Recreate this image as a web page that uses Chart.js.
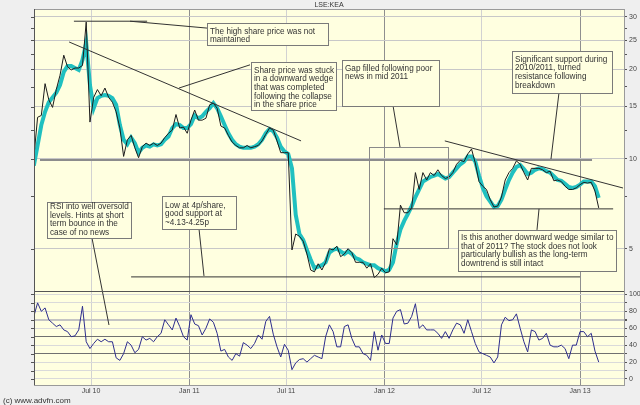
<!DOCTYPE html>
<html><head><meta charset="utf-8">
<script src="https://cdn.jsdelivr.net/npm/chart.js@4.4.1/dist/chart.umd.min.js"></script>
<style>html,body{margin:0;padding:0;background:#efefef;}canvas{display:block;}</style>
</head><body>
<canvas id="c" width="640" height="405" style="width:640px;height:405px"></canvas>
<script>
const chartTitle = 'LSE:KEA';
const credit = '(c) www.advfn.com';
const startDate = '2010-03-16';
const stepDays = 7;

const priceClose = [
10.1,13.8,14.0,17.9,15.8,14.9,17.1,19.1,22.3,20.4,
19.9,20.2,20.2,20.6,28.8,13.3,16.1,17.1,16.3,17.3,
16.1,15.5,14.4,12.7,10.2,11.6,12.0,10.9,10.1,11.0,
11.3,11.1,11.3,11.1,11.3,11.8,12.2,12.5,14.1,12.7,
12.8,12.2,13.5,14.6,13.5,13.5,13.7,15.2,15.4,14.8,
12.9,12.7,12.0,11.4,11.1,10.9,10.9,11.1,10.9,11.0,
11.1,11.5,12.1,12.7,12.5,11.5,10.5,10.5,10.5,4.95,
5.6,5.5,5.3,4.8,4.24,4.18,4.45,4.24,4.5,5.0,
4.95,5.1,4.7,4.8,5.0,4.85,4.5,4.5,4.5,4.3,
4.45,4.0,4.1,4.3,4.15,4.18,5.4,5.15,7.0,6.6,
6.6,6.85,9.0,7.9,9.0,8.5,9.0,8.8,9.2,8.8,
8.6,8.7,9.0,9.6,9.9,9.8,10.4,10.8,9.7,8.4,
8.1,7.9,7.3,6.9,6.95,7.45,8.5,9.0,9.3,9.85,
9.6,9.0,8.5,9.3,9.3,9.3,9.2,9.0,9.1,8.45,
8.5,8.4,8.1,7.9,7.9,8.0,8.2,8.35,8.3,8.35,
7.8,6.85];

const priceAverage = [
9.5,11.1,13.0,14.4,15.5,16.1,16.7,17.7,19.6,20.5,
20.5,20.2,19.9,21.5,24.5,17.7,14.8,16.0,16.3,16.4,
16.3,16.0,15.2,13.0,11.6,11.2,11.8,11.3,10.5,10.9,
11.1,11.0,11.2,11.1,11.2,11.6,11.9,12.7,13.1,13.0,
12.7,12.7,13.1,14.0,13.7,13.9,14.4,14.8,15.4,14.8,
13.9,13.0,12.2,11.6,11.2,11.0,10.9,10.9,10.9,11.0,
11.2,11.6,12.2,12.6,12.4,11.8,11.0,10.6,10.4,9.3,
6.5,5.6,5.35,4.95,4.6,4.3,4.35,4.4,4.5,4.85,
4.95,5.0,4.9,4.8,4.9,4.8,4.65,4.6,4.5,4.45,
4.4,4.4,4.3,4.25,4.2,4.25,4.5,5.2,5.8,6.2,
6.55,6.95,7.45,7.9,8.4,8.55,8.7,8.8,8.9,8.75,
8.6,8.7,9.0,9.3,9.6,9.8,10.2,10.2,9.8,8.8,
8.0,7.5,7.2,6.9,6.95,7.3,7.9,8.5,9.0,9.4,
9.55,9.25,8.9,9.0,9.2,9.3,9.25,9.1,9.0,8.75,
8.5,8.45,8.25,8.05,8.0,8.05,8.2,8.4,8.4,8.4,
8.1,7.4];

const rsiValues = [
74,90,80,84,70,66,62,64,58,56,
50,51,58,86,44,36,42,47,44,47,
44,44,25,22,30,44,40,31,35,50,
46,48,44,50,54,70,64,58,72,62,
50,46,76,65,63,52,60,71,67,54,
33,35,26,22,30,27,43,40,36,42,
52,47,68,74,53,38,26,41,34,11,
19,23,24,20,24,28,26,24,50,64,
56,38,38,62,64,48,38,38,30,28,
22,56,34,52,42,42,72,80,82,65,
66,74,89,60,64,58,58,58,54,48,
56,48,58,66,64,54,70,56,42,32,
30,28,26,19,26,64,73,69,70,77,
60,44,32,58,56,46,48,54,40,38,
38,40,36,24,40,40,56,56,50,54,
33,20];

const tickDates = ['2010-07-01','2011-01-01','2011-07-01','2012-01-01','2012-07-01','2013-01-01'];
const tickLabels = ['Jul 10','Jan 11','Jul 11','Jan 12','Jul 12','Jan 13'];
const priceTicks = [5,7.5,10,12.5,15,17.5,20,22.5,25,27.5,30];
const priceLabelTicks = [5,10,15,20,25,30];
const rsiTicks = [0,10,20,30,40,50,60,70,80,90,100];
const rsiLabelTicks = [0,20,40,60,80,100];

const dayRange = [74.3, 1178.3];
const priceRange = [3.605, 31.87];
const rsiRange = [-7.1, 104];

// drawn lines, [day, price]
const highLine = [[149,29.0],[286,29.0]];
const wedge2010 = [[140,24.7],[574,11.5]];
const support10 = [[85.5,9.92],[1118.5,9.92]];
const wedge2012 = [[843,11.5],[1176.5,7.99]];
const support2012 = [[729,6.8],[1158,6.8]];
const lowLine = [[256,4.02],[1096,4.02]];

// notes
const notes = [
 {x1:398, y1:28.6, x2:624.4, y2:24.1, first:8, lines:['The high share price was not','maintained']},
 {x1:480.4, y1:21.2, x2:639.4, y2:14.6, first:8, lines:['Share price was stuck','in a downward wedge','that was completed','following the collapse','in the share price']},
 {x1:650.6, y1:21.5, x2:832.2, y2:15.1, first:8, lines:['Gap filled following poor','news in mid 2011']},
 {x1:968.8, y1:23.0, x2:1155.9, y2:16.7, first:8, lines:['Significant support during','2010/2011, turned','resistance following','breakdown']},
 {x1:867.7, y1:5.78, x2:1163.4, y2:4.22, first:7.5, lines:['Is this another downward wedge similar to','that of 2011? The stock does not look','particularly bullish as the long-term','downtrend is still intact']},
 {x1:313.8, y1:7.51, x2:452.3, y2:5.82, first:9, lines:['Low at 4p/share,','good support at','~4.13-4.25p']},
 {x1:98.6, y1:7.17, x2:255.8, y2:5.43, first:4.5, lines:['RSI into well oversold','levels. Hints at short','term bounce in the','case of no news']}
];
const links = [
 [[254,29.0,'y'],[398,27.5,'y']],
 [[478.5,20.7,'y'],[345.6,17.3,'y']],
 [[746.1,15.1,'y'],[759.2,10.97,'y']],
 [[1056.7,16.7,'y'],[1041.7,10.0,'y']],
 [[1019.3,6.80,'y'],[1015.5,5.78,'y']],
 [[383.1,5.82,'y'],[392.4,4.05,'y']],
 [[182.8,5.43,'y'],[214.6,63.8,'rsi']]
];
const gapRect = {x1:701.2, y1:10.97, x2:849.0, y2:5.03};

const dayOf = s => { const [y,m,d] = s.split('-').map(Number); return (Date.UTC(y,m-1,d) - Date.UTC(2010,0,1)) / 864e5; };
const startDay = dayOf(startDate);
const tickDays = tickDates.map(dayOf);
const series = arr => arr.map((v,i) => ({x: startDay + i*stepDays, y: v}));
const seg = arr => arr.map(([x,y]) => ({x, y}));
const FONT = '"Liberation Sans", Arial, sans-serif';
const PLOT_BG = '#ffffe0';

const lineDs = (data, color, width, order, axis) => ({
  data, borderColor: color, borderWidth: width, pointRadius: 0, tension: 0,
  yAxisID: axis || 'y', order, fill: false
});

const overlay = {
  id: 'overlay',
  beforeDraw(chart) {
    const {ctx, chartArea: a} = chart;
    ctx.save();
    ctx.fillStyle = '#efefef';
    ctx.fillRect(0, 0, chart.width, chart.height);
    ctx.fillStyle = PLOT_BG;
    ctx.fillRect(a.left, a.top, a.right - a.left, a.bottom - a.top);
    ctx.restore();
  },
  afterDatasetsDraw(chart) {
    const {ctx, chartArea: a, scales} = chart;
    const X = v => scales.x.getPixelForValue(v);
    const Y = (v, ax) => scales[ax || 'y'].getPixelForValue(v);
    const r = v => Math.round(v) + 0.5;
    ctx.save();
    ctx.strokeStyle = '#8a8a8a'; ctx.lineWidth = 1;
    ctx.strokeRect(r(X(gapRect.x1)), r(Y(gapRect.y1)), Math.round(X(gapRect.x2) - X(gapRect.x1)), Math.round(Y(gapRect.y2) - Y(gapRect.y1)));
    ctx.strokeStyle = '#333';
    links.forEach(([p, q]) => {
      ctx.beginPath();
      ctx.moveTo(X(p[0]), Y(p[1], p[2]));
      ctx.lineTo(X(q[0]), Y(q[1], q[2]));
      ctx.stroke();
    });
    ctx.font = '8.2px ' + FONT;
    ctx.textBaseline = 'middle';
    notes.forEach(n => {
      const x1 = r(X(n.x1)), y1 = r(Y(n.y1)), x2 = r(X(n.x2)), y2 = r(Y(n.y2));
      ctx.fillStyle = PLOT_BG;
      ctx.fillRect(x1, y1, x2 - x1, y2 - y1);
      ctx.strokeStyle = '#7a7a7a';
      ctx.strokeRect(x1, y1, x2 - x1, y2 - y1);
      ctx.fillStyle = '#333';
      n.lines.forEach((t, k) => ctx.fillText(t, x1 + 2.5, y1 + n.first + k * 8.6));
    });
    ctx.strokeStyle = '#9a9a9a';
    ctx.strokeRect(r(a.left), r(a.top), Math.round(a.right - a.left), Math.round(a.bottom - a.top));
    ctx.strokeStyle = '#555';
    ctx.beginPath();
    ctx.moveTo(a.left, r(scales.y.bottom)); ctx.lineTo(a.right, r(scales.y.bottom));
    ctx.moveTo(r(a.left), a.top); ctx.lineTo(r(a.left), a.bottom);
    ['y', 'rsi'].forEach(k => scales[k].ticks.forEach(t => {
      const p = r(scales[k].getPixelForValue(t.value));
      ctx.moveTo(a.left - 3, p); ctx.lineTo(a.left, p);
    }));
    ctx.stroke();
    ctx.fillStyle = '#333';
    ctx.font = '7px ' + FONT;
    ctx.textAlign = 'center';
    ctx.fillText(chartTitle, (a.left + a.right) / 2, 5);
    ctx.textAlign = 'left';
    ctx.font = '8px ' + FONT;
    ctx.fillText(credit, 3, 400.5);
    ctx.restore();
  }
};

new Chart(document.getElementById('c'), {
  type: 'line',
  data: {
    datasets: [
      lineDs(series(priceClose), '#1c1c1c', 1, 2),
      lineDs(series(priceAverage), '#20c0c0', 4, 3),
      lineDs(series(rsiValues), '#2e2e8e', 1, 2, 'rsi'),
      lineDs(seg(highLine), '#333', 1, 1),
      lineDs(seg(wedge2010), '#333', 1, 1),
      lineDs(seg(support10), '#8c8c8c', 2, 4),
      lineDs(seg(wedge2012), '#333', 1, 1),
      lineDs(seg(support2012), '#333', 1, 1),
      lineDs(seg(lowLine), '#333', 1, 1)
    ]
  },
  options: {
    responsive: false,
    animation: false,
    layout: { padding: { left: 34, top: 9, right: 0, bottom: 0 } },
    plugins: { legend: { display: false }, tooltip: { enabled: false } },
    scales: {
      x: {
        type: 'linear', min: dayRange[0], max: dayRange[1],
        afterBuildTicks: s => { s.ticks = tickDays.map(v => ({value: v})); },
        afterFit: s => { s.height = 20; },
        ticks: { autoSkip: false, maxRotation: 0, padding: 2, color: '#444',
          font: { size: 7, family: FONT },
          callback: (v, i) => tickLabels[i] },
        grid: { drawTicks: false,
          color: c => (tickLabels[c.index] || '').startsWith('Jan') ? '#8f8f8f' : '#d2d2d2' },
        border: { display: false }
      },
      y: {
        type: 'logarithmic', position: 'right', stack: 'panels', stackWeight: 3,
        min: priceRange[0], max: priceRange[1],
        afterBuildTicks: s => { s.ticks = priceTicks.map(v => ({value: v})); },
        afterFit: s => { s.width = 16; },
        ticks: { autoSkip: false, padding: 2, color: '#444', font: { size: 7, family: FONT },
          callback: v => priceLabelTicks.includes(v) ? String(v) : '' },
        grid: { tickLength: 3, tickColor: '#555',
          color: c => c.tick && priceLabelTicks.includes(c.tick.value) ? '#c8c8c8' : 'rgba(0,0,0,0)' },
        border: { color: '#666' }
      },
      rsi: {
        type: 'linear', position: 'right', stack: 'panels', stackWeight: 1,
        min: rsiRange[0], max: rsiRange[1],
        afterBuildTicks: s => { s.ticks = rsiTicks.map(v => ({value: v})); },
        afterFit: s => { s.width = 16; },
        ticks: { autoSkip: false, padding: 2, color: '#444', font: { size: 7, family: FONT },
          callback: v => rsiLabelTicks.includes(v) ? String(v) : '' },
        grid: { tickLength: 3, tickColor: '#555',
          color: c => { const v = c.tick && c.tick.value; return (v === 30 || v === 50) ? '#707070' : v === 70 ? '#c4c4c4' : '#dadada'; },
          lineWidth: c => (c.tick && c.tick.value === 70) ? 2 : 1 },
        border: { color: '#666' }
      }
    }
  },
  plugins: [overlay]
});
</script>
</body></html>
